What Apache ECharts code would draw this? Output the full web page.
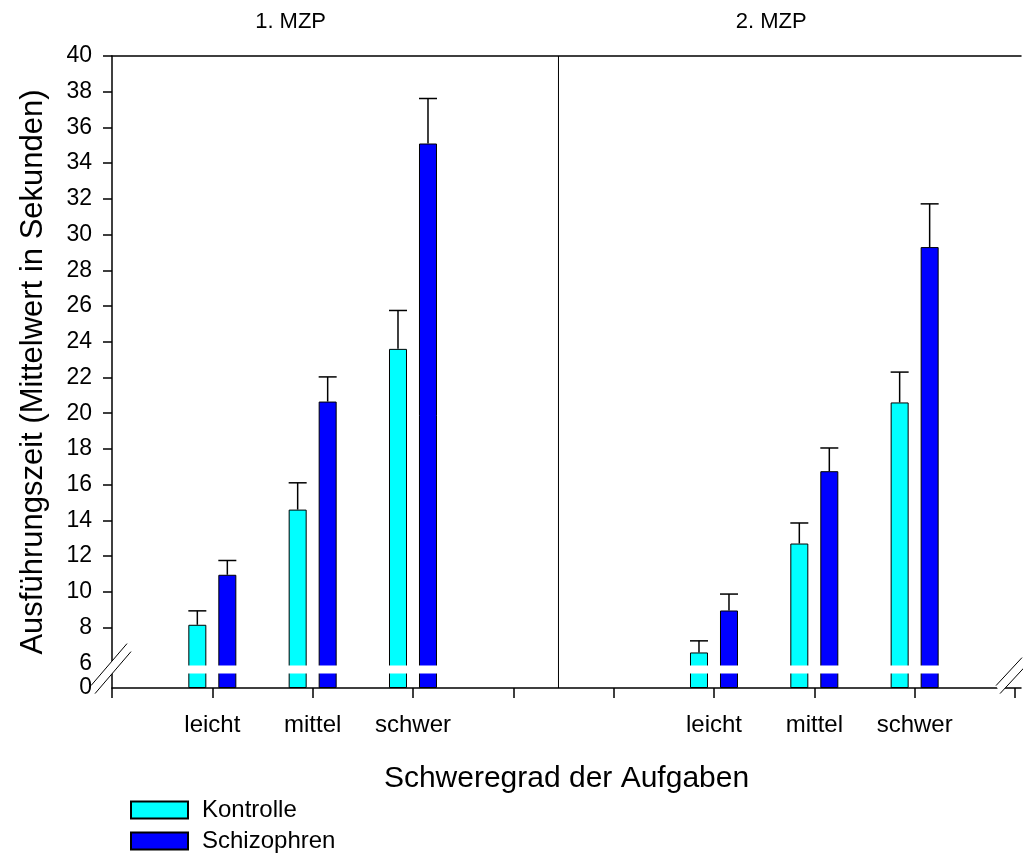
<!DOCTYPE html>
<html><head><meta charset="utf-8">
<script src="https://cdn.jsdelivr.net/npm/echarts@6/dist/echarts.min.js"></script>
<style>html,body{margin:0;padding:0;background:#fff}#c{width:1023px;height:855px}</style>
</head><body><div id="c"></div>
<script>
// ---- data ----
const panelTitles = ['1. MZP', '2. MZP'];
const xTickLabels = ['', 'leicht', 'mittel', 'schwer', '', '', 'leicht', 'mittel', 'schwer', ''];
const groupPositions = [1, 2, 3, 6, 7, 8];
const seriesNames = ['Kontrolle', 'Schizophren'];
const kontrolle = [8.15, 14.6, 23.6, 6.6, 12.7, 20.6];
const kontrolleSE = [0.78, 1.5, 2.15, 0.65, 1.15, 1.7];
const schizophren = [10.95, 20.65, 35.1, 8.95, 16.75, 29.3];
const schizophrenSE = [0.8, 1.38, 2.52, 0.92, 1.3, 2.42];
const yTickValues = [0, 6, 8, 10, 12, 14, 16, 18, 20, 22, 24, 26, 28, 30, 32, 34, 36, 38, 40];
const yBreak = [0.8, 5.87];
const panelDivider = 4.45;
const xAxisTitle = 'Schweregrad der Aufgaben';
const yAxisTitle = 'Ausführungszeit (Mittelwert in Sekunden)';

// ---- style ----
const FONT = 'Liberation Sans, Arial, sans-serif';
const BAR_W = 18, BAR_GAP_PX = 12;
const OFFSET = (BAR_W + BAR_GAP_PX) / 2;
const colors = ['#00FFFF', '#0000FF'];

const chart = echarts.init(document.getElementById('c'), null, {renderer: 'canvas'});

function pairs(vals) { return groupPositions.map((p, i) => [p, vals[i]]); }
function errData(vals, se) { return groupPositions.map((p, i) => [p, vals[i], vals[i] + se[i]]); }

function errRender(sign) {
  return function (params, api) {
    const x = api.value(0);
    const base = api.coord([x, api.value(1)]);
    const top = api.coord([x, api.value(2)]);
    const cx = base[0] + sign * OFFSET;
    const half = BAR_W / 2;
    const st = {stroke: '#000', lineWidth: 1.5};
    return {type: 'group', children: [
      {type: 'line', shape: {x1: cx, y1: base[1], x2: cx, y2: top[1]}, style: st},
      {type: 'line', shape: {x1: cx - half, y1: top[1], x2: cx + half, y2: top[1]}, style: st}
    ]};
  };
}

function legendFor(name, top) {
  return {
    data: [name], left: 130, top: top, padding: 0,
    itemWidth: 57, itemHeight: 17, icon: 'rect',
    textStyle: {fontFamily: FONT, fontSize: 24, color: '#000', padding: [0, 0, 0, 9]}
  };
}

const xMax = 9.06;
const option = {
  animation: false,
  backgroundColor: '#fff',
  textStyle: {fontFamily: FONT, color: '#000'},
  grid: {left: 112, right: 2, top: 56, bottom: 167, containLabel: false},
  legend: [legendFor(seriesNames[0], 798), legendFor(seriesNames[1], 829)],
  xAxis: [{
    type: 'value', min: 0, max: xMax,
    axisLine: {lineStyle: {color: '#000', width: 1.5}},
    axisTick: {show: true, inside: false, length: 10, lineStyle: {color: '#000', width: 1.5},
      customValues: xTickLabels.map((_, i) => i)},
    axisLabel: {
      customValues: xTickLabels.map((_, i) => i).filter(i => xTickLabels[i] !== ''),
      formatter: v => xTickLabels[Math.round(v)] || '',
      fontFamily: FONT, fontSize: 24, color: '#000', margin: 25
    },
    splitLine: {show: false},
    name: xAxisTitle, nameLocation: 'middle', nameGap: 76,
    nameTextStyle: {fontFamily: FONT, fontSize: 30, color: '#000'}
  }, {
    type: 'value', position: 'top', min: 0, max: xMax,
    axisLine: {show: true, lineStyle: {color: '#000', width: 1.5}},
    axisTick: {show: false}, axisLabel: {show: false}, splitLine: {show: false}
  }],
  yAxis: {
    type: 'value', min: 0, max: 40,
    breaks: [{start: yBreak[0], end: yBreak[1], gap: '1.3%'}],
    breakArea: {
      show: true,
      itemStyle: {color: '#fff', borderColor: '#fff', borderWidth: 0, opacity: 1},
      zigzagAmplitude: 0,
      expandOnClick: false
    },
    axisLine: {show: true, lineStyle: {color: '#000', width: 1.5}},
    axisTick: {show: true, inside: false, length: 9, lineStyle: {color: '#000', width: 1.5},
      customValues: yTickValues.filter(v => v >= 8)},
    axisLabel: {customValues: yTickValues, fontFamily: FONT, fontSize: 23, color: '#000', margin: 20},
    splitLine: {show: false},
    name: yAxisTitle, nameLocation: 'middle', nameRotate: 90, nameGap: 63,
    nameTextStyle: {fontFamily: FONT, fontSize: 31, color: '#000'}
  },
  series: [{
    name: seriesNames[0], type: 'bar', data: pairs(kontrolle),
    barWidth: BAR_W, barGap: (BAR_GAP_PX / BAR_W * 100) + '%',
    itemStyle: {color: colors[0], borderColor: '#000', borderWidth: 1}
  }, {
    name: seriesNames[1], type: 'bar', data: pairs(schizophren),
    barWidth: BAR_W,
    itemStyle: {color: colors[1], borderColor: '#000', borderWidth: 1}
  }, {
    type: 'custom', name: 'errK', renderItem: errRender(-1), data: errData(kontrolle, kontrolleSE), z: 5
  }, {
    type: 'custom', name: 'errS', renderItem: errRender(1), data: errData(schizophren, schizophrenSE), z: 5
  }]
};
chart.setOption(option);

// decorative panel titles, divider, continuous axis line and axis break marks
const yLo = chart.convertToPixel({gridIndex: 0}, [0, 0])[1];
const yTop = chart.convertToPixel({gridIndex: 0}, [0, 40])[1];
const yBLo = chart.convertToPixel({gridIndex: 0}, [0, yBreak[0]])[1];
const yBHi = chart.convertToPixel({gridIndex: 0}, [0, yBreak[1]])[1];
const yMid = (yBLo + yBHi) / 2;
const xL = chart.convertToPixel({gridIndex: 0}, [0, 0])[0];
const xR = chart.convertToPixel({gridIndex: 0}, [xMax, 0])[0];
const xDiv = chart.convertToPixel({gridIndex: 0}, [panelDivider, 0])[0];
const p1 = chart.convertToPixel({gridIndex: 0}, [1.78, 0])[0];
const p2 = chart.convertToPixel({gridIndex: 0}, [6.57, 0])[0];
function breakMark(cx, cy, w, h) {
  const st = {stroke: '#000', lineWidth: 1};
  return [
    {type: 'polygon', zlevel: 2, shape: {points: [[cx - w/2 - 2, cy + h/2 - 4], [cx + w/2 - 2, cy - h/2 - 4], [cx + w/2 + 2, cy - h/2 + 4], [cx - w/2 + 2, cy + h/2 + 4]]}, style: {fill: '#fff'}, z: 50},
    {type: 'line', zlevel: 2, shape: {x1: cx - w/2 - 2, y1: cy + h/2 - 4, x2: cx + w/2 - 2, y2: cy - h/2 - 4}, style: st, z: 51},
    {type: 'line', zlevel: 2, shape: {x1: cx - w/2 + 2, y1: cy + h/2 + 4, x2: cx + w/2 + 2, y2: cy - h/2 + 4}, style: st, z: 51}
  ];
}
chart.setOption({
  graphic: [
    {type: 'text', x: p1, y: 11, style: {text: panelTitles[0], font: '22px ' + FONT, fill: '#000', align: 'center'}},
    {type: 'text', x: p2, y: 11, style: {text: panelTitles[1], font: '22px ' + FONT, fill: '#000', align: 'center'}},
    {type: 'line', zlevel: 1, shape: {x1: xDiv, y1: yTop, x2: xDiv, y2: yLo}, style: {stroke: '#000', lineWidth: 1}, z: 40},
    {type: 'line', zlevel: 1, shape: {x1: xL, y1: yBHi, x2: xL, y2: yBLo}, style: {stroke: '#000', lineWidth: 1.5}, z: 40}
  ].concat(breakMark(xL - 1, yMid - 1, 36, 42)).concat(breakMark(xR - 10, yMid + 6, 26, 28))
});
</script></body></html>
